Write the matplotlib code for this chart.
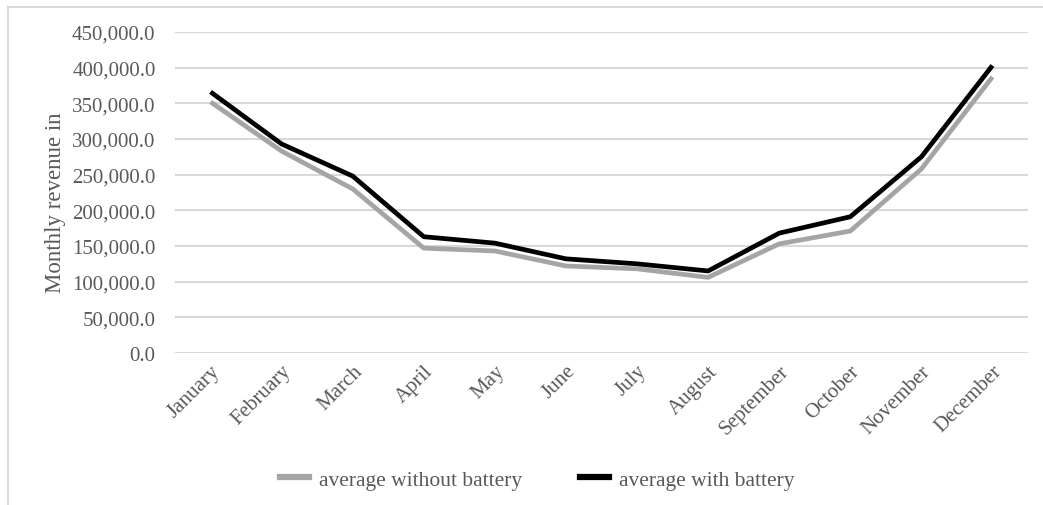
import matplotlib.pyplot as plt
from matplotlib.lines import Line2D
from matplotlib.ticker import FuncFormatter

plt.rcParams['font.family'] = ['Liberation Serif', 'DejaVu Serif']

# Monthly revenue figures
months = ['January', 'February', 'March', 'April', 'May', 'June', 'July',
          'August', 'September', 'October', 'November', 'December']
without_battery = [352000, 283000, 230000, 147000, 143000, 122000, 118000,
                   106000, 153000, 171000, 258000, 387000]
with_battery = [366000, 293000, 248000, 163000, 154000, 132000, 125000,
                115000, 168000, 191000, 275000, 403000]
yticks = list(range(0, 450001, 50000))

grey_text = '#595959'
grid_col = '#d9d9d9'

fig = plt.figure(figsize=(10.43, 5.06), dpi=100)
ax = fig.add_axes([175 / 1043, 1 - 354 / 506, (1028 - 175) / 1043, (354 - 33) / 506])

x = range(len(months))
ax.plot(x, without_battery, color='#a5a5a5', lw=3.4, solid_capstyle='butt',
        label='average without battery', zorder=3)
ax.plot(x, with_battery, color='#000000', lw=3.4, solid_capstyle='butt',
        label='average with battery', zorder=4)

ax.set_xlim(-0.5, len(months) - 0.5)
ax.set_ylim(0, 450000)
ax.set_yticks(yticks)
ax.yaxis.set_major_formatter(FuncFormatter(lambda v, p: f'{v:,.1f}'))
ax.grid(axis='y', color=grid_col, lw=1.5)
ax.set_axisbelow(True)
for s in ax.spines.values():
    s.set_visible(False)
ax.tick_params(length=0, labelsize=15, colors=grey_text, pad=14)
ax.tick_params(axis='x', pad=6)

ax.set_xticks(list(x))
ax.set_xticklabels(months, rotation=45, ha='right', rotation_mode='anchor')

ax.set_ylabel('Monthly revenue in', fontsize=16.5, color=grey_text)
ax.yaxis.set_label_coords(-0.128, 0.47)

handles = [Line2D([], [], color='#a5a5a5', lw=4.5),
           Line2D([], [], color='#000000', lw=4.5)]
fig.legend(handles, ['average without battery', 'average with battery'],
           loc='center', bbox_to_anchor=(537 / 1043, 1 - 481 / 506), ncol=2,
           frameon=False, fontsize=15.5, labelcolor=grey_text,
           handlelength=1.35, handletextpad=0.45, columnspacing=2.7)

# chart border
fig.add_artist(Line2D([8 / 1043, 8 / 1043], [0, 1 - 8 / 506],
                      transform=fig.transFigure, color=grid_col, lw=1.5))
fig.add_artist(Line2D([8 / 1043, 1], [1 - 8 / 506, 1 - 8 / 506],
                      transform=fig.transFigure, color=grid_col, lw=1.5))

fig.savefig('out.png', dpi=100)
